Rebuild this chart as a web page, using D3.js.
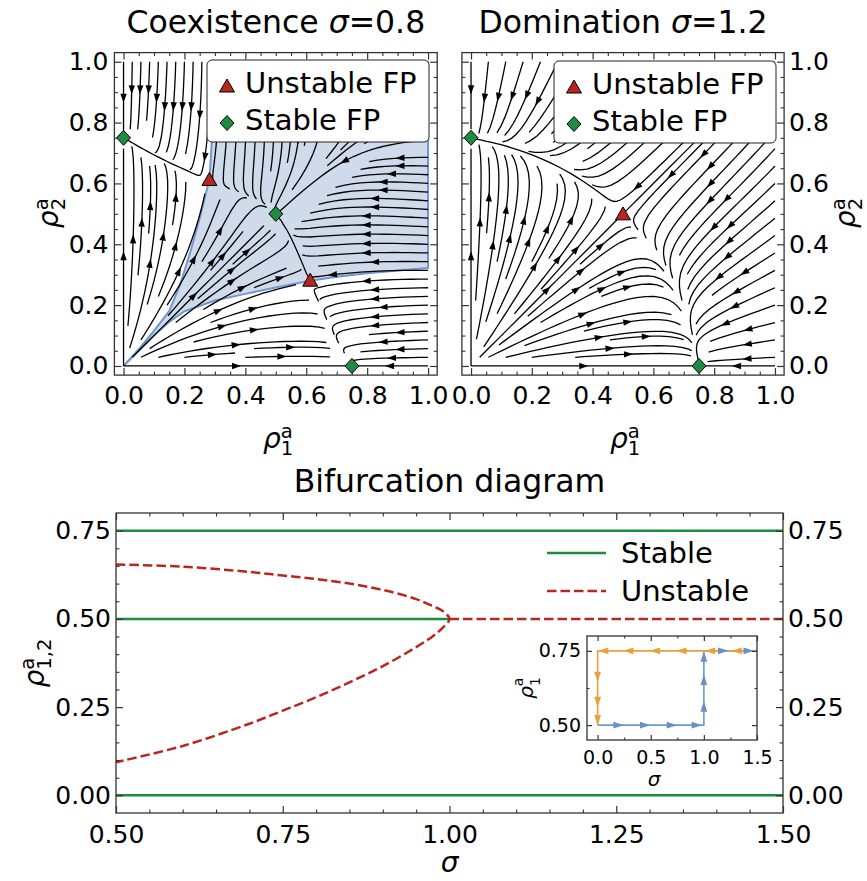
<!DOCTYPE html>
<html>
<head>
<meta charset="utf-8">
<script src="https://cdn.jsdelivr.net/npm/d3@7"></script>
<style>
  body { margin: 0; background: #fff; }
  svg { font-family: "DejaVu Sans", sans-serif; }
</style>
</head>
<body>
<script>
// Canvas
const w = 867;
const h = 881;

// ---------- values ----------
// fixed points of the phase portraits (rho1, rho2)
const coexStable = [[0, 0.75], [0.5, 0.5], [0.75, 0]];
const coexUnstable = [[0.282, 0.613], [0.613, 0.282]];
const domStable = [[0, 0.75], [0.75, 0]];
const domUnstable = [[0.5, 0.5]];

// basin of attraction of the coexistence state (sigma = 0.8)
const basinLower = [[0, 0], [0.05, 0.05], [0.1, 0.1], [0.15, 0.145], [0.2, 0.18], [0.3, 0.215],
  [0.4, 0.237], [0.5, 0.258], [0.613, 0.28], [0.7, 0.293], [0.8, 0.305], [0.9, 0.314], [1.0, 0.322]];
const basinUpper = [[0, 0], [0.05, 0.055], [0.1, 0.115], [0.15, 0.18], [0.185, 0.265], [0.218, 0.37],
  [0.251, 0.49], [0.282, 0.613], [0.29, 0.737], [0.3, 1.0]];
const basinCorner = [[1.0, 1.0]];

const phaseTicks = [0, 0.2, 0.4, 0.6, 0.8, 1.0];

// bifurcation diagram
const bifSigma = [0.5, 0.6, 0.7, 0.75, 0.8, 0.85, 0.9, 0.95, 0.975, 0.99, 1.0];
const bifUpper = [0.654, 0.648, 0.633, 0.623, 0.613, 0.6, 0.582, 0.556, 0.536, 0.522, 0.5];
const bifLower = [0.094, 0.14, 0.203, 0.24, 0.278, 0.32, 0.366, 0.42, 0.451, 0.475, 0.5];
const stableBranches = [[[0.5, 0.75], [1.5, 0.75]], [[0.5, 0.5], [1.0, 0.5]], [[0.5, 0], [1.5, 0]]];
const unstableCentre = [[1.0, 0.5], [1.5, 0.5]];
const bifXTicks = [0.5, 0.75, 1.0, 1.25, 1.5];
const bifYTicks = [0, 0.25, 0.5, 0.75];

// hysteresis inset (sigma, rho1)
const loopDown = [[1.5, 0.75], [0, 0.75], [0, 0.5]];
const loopUp = [[0, 0.5], [1.0, 0.5], [1.0, 0.75], [1.5, 0.75]];
const loopDownArrows = [[1.31, 0.75, "left"], [1.06, 0.75, "left"], [0.79, 0.75, "left"], [0.54, 0.75, "left"],
  [0.29, 0.75, "left"], [0.054, 0.75, "left"], [0, 0.663, "down"], [0, 0.579, "down"], [0, 0.517, "down"]];
const loopUpArrows = [[0.195, 0.5, "right"], [0.446, 0.5, "right"], [0.697, 0.5, "right"], [0.932, 0.5, "right"],
  [1.0, 0.562, "up"], [1.0, 0.652, "up"], [1.0, 0.73, "up"], [1.18, 0.75, "right"], [1.42, 0.75, "right"]];
const insetXTicks = [0, 0.5, 1.0, 1.5];
const insetYTicks = [0.5, 0.75];

// ---------- model used for the stream lines: rho_i' = rho_i * g(rho_i, rho_j) ----------
function gCoex(a, b) {
  const q = (a - 0.225) ** 2 + (b - 0.225) ** 2 - 0.15125;
  return 0.919 - a - 2.221 * b - 0.3 * a * a + 1.995 * a * b + 1.072 * b * b - a * a * b * q;
}
function gDom(a, b, s = 1.2) {
  return 0.75 - a - s * b + (2 * s - 1) * a * b;
}

// colours
const RED = "#b8271f";
const GREEN = "#1c8c3e";
const BLUE = "#7297cf";
const ORANGE = "#e9a23b";
const INK = "#333";

// ---------- streamplot (same scheme as matplotlib) ----------
function streamplot(field, density, minlength) {
  const N = 100;
  const nm = Math.round(30 * density);
  const g2m = (nm - 1) / (N - 1);
  const mask = new Uint8Array(nm * nm);
  let traj = [], cur = -1;
  const within = (xg, yg) => xg >= 0 && xg <= N - 1 && yg >= 0 && yg <= N - 1;

  function update(xg, yg) {
    if (!within(xg, yg)) throw "invalid";
    const k = Math.round(yg * g2m) * nm + Math.round(xg * g2m);
    if (k !== cur) {
      if (mask[k] === 0) { traj.push(k); mask[k] = 1; cur = k; }
      else throw "invalid";
    }
  }
  function dir(xg, yg, sgn) {
    if (!within(xg, yg)) throw "oob";
    const [u, v] = field(xg / (N - 1), yg / (N - 1));
    const s = Math.hypot(u, v);
    if (s === 0 || !isFinite(s)) throw "stop";
    return [sgn * u * (N - 1) / s, sgn * v * (N - 1) / s];
  }
  function euler(pts, sgn) {
    const [xi, yi] = pts[pts.length - 1];
    let c;
    try { c = dir(xi, yi, sgn); } catch (e) { return 0; }
    const [cx, cy] = c;
    const dsx = cx === 0 ? Infinity : cx < 0 ? xi / -cx : (N - 1 - xi) / cx;
    const dsy = cy === 0 ? Infinity : cy < 0 ? yi / -cy : (N - 1 - yi) / cy;
    const ds = Math.min(dsx, dsy);
    pts.push([xi + cx * ds, yi + cy * ds]);
    return ds;
  }
  function rk12(x0, y0, sgn) {
    const maxerr = 0.003, maxds = Math.min(1 / nm, 0.1), maxlength = 4;
    let ds = maxds, stot = 0, xi = x0, yi = y0;
    const pts = [];
    for (let it = 0; it < 20000; it++) {
      let k1, k2;
      try {
        if (within(xi, yi)) pts.push([xi, yi]); else throw "oob";
        k1 = dir(xi, yi, sgn);
        k2 = dir(xi + ds * k1[0], yi + ds * k1[1], sgn);
      } catch (e) {
        if (e === "oob" && pts.length) stot += euler(pts, sgn);
        break;
      }
      const dx1 = ds * k1[0], dy1 = ds * k1[1];
      const dx2 = ds * 0.5 * (k1[0] + k2[0]), dy2 = ds * 0.5 * (k1[1] + k2[1]);
      const err = Math.hypot((dx2 - dx1) / (N - 1), (dy2 - dy1) / (N - 1));
      if (err < maxerr) {
        xi += dx2; yi += dy2;
        try { update(xi, yi); } catch (e) { break; }
        if (stot + ds > maxlength) break;
        stot += ds;
      }
      ds = err === 0 ? maxds : Math.min(maxds, 0.85 * ds * Math.sqrt(maxerr / err));
    }
    return { s: stot, pts };
  }
  function integrate(x0, y0) {
    traj = []; cur = -1;
    try { update(x0, y0); } catch (e) { return null; }
    const b = rk12(x0, y0, -1);
    cur = Math.round(y0 * g2m) * nm + Math.round(x0 * g2m);
    const f = rk12(x0, y0, 1);
    const stot = b.s + f.s;
    if (stot > minlength) return b.pts.reverse().concat(f.pts.slice(1));
    for (const k of traj) mask[k] = 0;
    return null;
  }
  // spiral of seed points from the border inwards
  const out = [];
  let x = 0, y = 0, xfirst = 0, yfirst = 1, xlast = nm - 1, ylast = nm - 1, d = "right";
  for (let i = 0; i < nm * nm; i++) {
    if (mask[y * nm + x] === 0) {
      const t = integrate(x / g2m, y / g2m);
      if (t) out.push(t.map(p => [p[0] / (N - 1), p[1] / (N - 1)]));
    }
    if (d === "right") { x++; if (x >= xlast) { xlast--; d = "up"; } }
    else if (d === "up") { y++; if (y >= ylast) { ylast--; d = "left"; } }
    else if (d === "left") { x--; if (x <= xfirst) { xfirst++; d = "down"; } }
    else { y--; if (y <= yfirst) { yfirst++; d = "right"; } }
  }
  return out;
}

const svg = d3.select("body").append("svg").attr("width", w).attr("height", h);

// ---------- helpers ----------
function axesFrame(g, sx, sy, o) {
  const [xa, xb] = sx.range(), [ya, yb] = sy.range();
  const specs = [
    [() => d3.axisBottom(sx), `translate(0,${ya})`, o.xMajor, o.xMinor, o.bottom, o.xFmt, o.padX],
    [() => d3.axisTop(sx), `translate(0,${yb})`, o.xMajor, o.xMinor, false, null, 0],
    [() => d3.axisLeft(sy), `translate(${xa},0)`, o.yMajor, o.yMinor, o.left, o.yFmt, o.padY],
    [() => d3.axisRight(sy), `translate(${xb},0)`, o.yMajor, o.yMinor, o.right, o.yFmt, o.padY]
  ];
  for (const [mk, tr, major, minor, lab, fmt, pad] of specs) {
    g.append("g").attr("transform", tr).attr("color", INK)
      .call(mk().tickValues(minor).tickSizeInner(-o.minorLen).tickSizeOuter(0).tickFormat(() => ""))
      .call(s => s.select(".domain").remove())
      .call(s => s.selectAll("line").attr("stroke-width", 1.1));
    g.append("g").attr("transform", tr).attr("color", INK)
      .call(mk().tickValues(major).tickSizeInner(-o.majorLen).tickSizeOuter(0).tickPadding(pad)
        .tickFormat(lab ? d3.format(fmt) : () => ""))
      .call(s => s.select(".domain").remove())
      .call(s => s.selectAll("line").attr("stroke-width", 1.2))
      .call(s => s.selectAll("text").attr("fill", "#000").attr("font-size", o.fs)
        .attr("font-family", "DejaVu Sans, sans-serif"));
  }
  g.append("rect").attr("x", xa).attr("y", yb).attr("width", xb - xa).attr("height", ya - yb)
    .attr("fill", "none").attr("stroke", INK).attr("stroke-width", 1.3);
}

function rhoLabel(g, x, y, sub, fs, rot) {
  const t = g.append("text").attr("transform", `translate(${x},${y}) rotate(${rot})`)
    .attr("text-anchor", "middle").attr("font-size", fs);
  t.append("tspan").attr("font-style", "italic").text("ρ");
  t.append("tspan").attr("font-size", fs * 0.7).attr("dy", -10).text("a");
  t.append("tspan").attr("font-size", fs * 0.7).attr("dx", -fs * 0.7 * 0.613).attr("dy", 17).text(sub);
}

function sigmaTitle(g, x, y, head, tail) {
  const t = g.append("text").attr("x", x).attr("y", y).attr("text-anchor", "middle").attr("font-size", 31.5);
  t.append("tspan").text(head);
  t.append("tspan").attr("font-style", "italic").text("σ");
  t.append("tspan").text(tail);
}

const triPath = "M0,-7 L7.5,6 L-7.5,6 Z";
const diaPath = "M0,-7.5 L7,0 L0,7.5 L-7,0 Z";

function fixedPoints(g, sx, sy, stable, unstable) {
  g.selectAll(null).data(unstable).join("path").attr("d", triPath)
    .attr("transform", d => `translate(${sx(d[0])},${sy(d[1])})`)
    .attr("fill", RED).attr("stroke", "#000").attr("stroke-width", 1);
  g.selectAll(null).data(stable).join("path").attr("d", diaPath)
    .attr("transform", d => `translate(${sx(d[0])},${sy(d[1])})`)
    .attr("fill", GREEN).attr("stroke", "#000").attr("stroke-width", 1);
}

function fpLegend(g, x0, y0) {
  g.append("rect").attr("x", x0).attr("y", y0).attr("width", 222).attr("height", 82).attr("rx", 5)
    .attr("fill", "#fff").attr("stroke", "#222").attr("stroke-width", 1);
  g.append("path").attr("d", triPath).attr("transform", `translate(${x0 + 20},${y0 + 26})`)
    .attr("fill", RED).attr("stroke", "#000").attr("stroke-width", 1);
  g.append("text").attr("x", x0 + 38).attr("y", y0 + 33).attr("font-size", 29).text("Unstable FP");
  g.append("path").attr("d", diaPath).attr("transform", `translate(${x0 + 20},${y0 + 63})`)
    .attr("fill", GREEN).attr("stroke", "#000").attr("stroke-width", 1);
  g.append("text").attr("x", x0 + 38).attr("y", y0 + 70).attr("font-size", 29).text("Stable FP");
}

function streams(g, sx, sy, lines) {
  const line = d3.line().x(d => sx(d[0])).y(d => sy(d[1]));
  g.selectAll(null).data(lines).join("path").attr("d", line)
    .attr("fill", "none").attr("stroke", "#000").attr("stroke-width", 1.3);
  const heads = [];
  for (const pts of lines) {
    const px = pts.map(p => [sx(p[0]), sy(p[1])]);
    const s = [];
    let acc = 0;
    for (let i = 1; i < px.length; i++) { acc += Math.hypot(px[i][0] - px[i - 1][0], px[i][1] - px[i - 1][1]); s.push(acc); }
    if (!s.length) continue;
    let n = 0;
    while (n < s.length && s[n] < acc / 2) n++;
    const tail = px[n];
    const head = n + 1 < px.length ? [(px[n][0] + px[n + 1][0]) / 2, (px[n][1] + px[n + 1][1]) / 2] : px[n];
    if (head[0] === tail[0] && head[1] === tail[1]) continue;
    const ang = Math.atan2(head[1] - tail[1], head[0] - tail[0]) * 180 / Math.PI;
    heads.push({ x: head[0], y: head[1], a: ang });
  }
  g.selectAll(null).data(heads).join("path").attr("d", "M3,0 L-6,-3.2 L-6,3.2 Z")
    .attr("transform", d => `translate(${d.x},${d.y}) rotate(${d.a})`).attr("fill", "#000");
}

// ---------- scales ----------
const xCo = d3.scaleLinear([-0.03, 1.03], [114.4, 437.2]);
const xDo = d3.scaleLinear([-0.03, 1.03], [461.9, 784.1]);
const yPh = d3.scaleLinear([-0.03, 1.03], [375.1, 52.6]);
const xBif = d3.scaleLinear([0.5, 1.5], [116, 783]);
const yBif = d3.scaleLinear([-0.05, 0.8], [813, 513]);
const xIn = d3.scaleLinear([-0.1, 1.5], [587, 757]);
const yIn = d3.scaleLinear([0.45, 0.8], [740, 636]);

const phaseMinor = d3.range(0, 21).map(i => i * 0.05).filter(v => Math.abs(v * 5 - Math.round(v * 5)) > 1e-6);

// ---------- panel 1: coexistence ----------
const p1 = svg.append("g");
const basinPoly = basinLower.concat(basinCorner, basinUpper.slice().reverse());
p1.append("path").datum(basinPoly)
  .attr("d", d3.line().x(d => xCo(d[0])).y(d => yPh(d[1])))
  .attr("fill", "#cfdaea").attr("stroke", BLUE).attr("stroke-width", 2).attr("stroke-linejoin", "round");
streams(p1, xCo, yPh, streamplot((a, b) => [a * gCoex(a, b), b * gCoex(b, a)], 1.2, 0.14));
fixedPoints(p1, xCo, yPh, coexStable, coexUnstable);
fpLegend(p1, 207, 60);
axesFrame(p1, xCo, yPh, {
  xMajor: phaseTicks, xMinor: phaseMinor, yMajor: phaseTicks, yMinor: phaseMinor,
  bottom: true, left: true, right: false, xFmt: ".1f", yFmt: ".1f", fs: 25, padX: 11, padY: 6,
  majorLen: 7, minorLen: 3.5
});
sigmaTitle(p1, 275.8, 33, "Coexistence ", "=0.8");
rhoLabel(p1, 278, 448, "1", 28, 0);
rhoLabel(p1, 58, 213, "2", 28, -90);

// ---------- panel 2: domination ----------
const p2 = svg.append("g");
streams(p2, xDo, yPh, streamplot((a, b) => [a * gDom(a, b), b * gDom(b, a)], 1.2, 0.2));
fixedPoints(p2, xDo, yPh, domStable, domUnstable);
fpLegend(p2, 554, 61);
axesFrame(p2, xDo, yPh, {
  xMajor: phaseTicks, xMinor: phaseMinor, yMajor: phaseTicks, yMinor: phaseMinor,
  bottom: true, left: false, right: true, xFmt: ".1f", yFmt: ".1f", fs: 25, padX: 11, padY: 5,
  majorLen: 7, minorLen: 3.5
});
sigmaTitle(p2, 623, 33, "Domination ", "=1.2");
rhoLabel(p2, 625, 448, "1", 28, 0);
rhoLabel(p2, 855, 213, "2", 28, -90);

// ---------- panel 3: bifurcation diagram ----------
const p3 = svg.append("g");
const bl = d3.line().x(d => xBif(d[0])).y(d => yBif(d[1]));
p3.selectAll(null).data(stableBranches).join("path").attr("d", bl)
  .attr("fill", "none").attr("stroke", GREEN).attr("stroke-width", 2.5);
const nose = bifSigma.map((s, i) => [s, bifUpper[i]])
  .concat(bifSigma.map((s, i) => [s, bifLower[i]]).slice(0, -1).reverse());
p3.append("path").datum(nose).attr("d", d3.line().x(d => xBif(d[0])).y(d => yBif(d[1])).curve(d3.curveCatmullRom))
  .attr("fill", "none").attr("stroke", RED).attr("stroke-width", 2.5).attr("stroke-dasharray", "9.5,4");
p3.append("path").datum(unstableCentre).attr("d", bl)
  .attr("fill", "none").attr("stroke", RED).attr("stroke-width", 2.5).attr("stroke-dasharray", "9.5,4");

const bifXMinor = d3.range(0, 21).map(i => 0.5 + i * 0.05).filter(v => Math.abs(v * 4 - Math.round(v * 4)) > 1e-6);
const bifYMinor = d3.range(0, 16).map(i => i * 0.05).filter(v => Math.abs(v * 4 - Math.round(v * 4)) > 1e-6);
axesFrame(p3, xBif, yBif, {
  xMajor: bifXTicks, xMinor: bifXMinor, yMajor: bifYTicks, yMinor: bifYMinor,
  bottom: true, left: true, right: true, xFmt: ".2f", yFmt: ".2f", fs: 25, padX: 12, padY: 5,
  majorLen: 7, minorLen: 3.5
});
p3.append("text").attr("x", 449.5).attr("y", 492).attr("text-anchor", "middle").attr("font-size", 31.5)
  .text("Bifurcation diagram");
p3.append("text").attr("x", 449.5).attr("y", 872).attr("text-anchor", "middle").attr("font-size", 28)
  .attr("font-style", "italic").text("σ");
rhoLabel(p3, 44, 663, "1,2", 28, -90);

// legend
const lg = p3.append("g");
lg.append("line").attr("x1", 547).attr("x2", 606).attr("y1", 553).attr("y2", 553)
  .attr("stroke", GREEN).attr("stroke-width", 2.5);
lg.append("text").attr("x", 621).attr("y", 563).attr("font-size", 29).text("Stable");
lg.append("line").attr("x1", 547).attr("x2", 606).attr("y1", 591).attr("y2", 591)
  .attr("stroke", RED).attr("stroke-width", 2.5).attr("stroke-dasharray", "9.5,4");
lg.append("text").attr("x", 621).attr("y", 601).attr("font-size", 29).text("Unstable");

// ---------- inset: hysteresis loop ----------
const p4 = svg.append("g");
p4.append("rect").attr("x", 587).attr("y", 636).attr("width", 170).attr("height", 104).attr("fill", "#fff");
const il = d3.line().x(d => xIn(d[0])).y(d => yIn(d[1]));
p4.append("path").datum(loopUp).attr("d", il).attr("fill", "none").attr("stroke", BLUE).attr("stroke-width", 1.6);
p4.append("path").datum(loopDown).attr("d", il).attr("fill", "none").attr("stroke", ORANGE).attr("stroke-width", 1.6);
const headings = { left: 180, right: 0, up: -90, down: 90 };
const arrowPath = "M5.5,0 L-5,-3.4 L-5,3.4 Z";
p4.selectAll(null).data(loopUpArrows).join("path").attr("d", arrowPath)
  .attr("transform", d => `translate(${xIn(d[0])},${yIn(d[1])}) rotate(${headings[d[2]]})`).attr("fill", "#6a8fca");
p4.selectAll(null).data(loopDownArrows).join("path").attr("d", arrowPath)
  .attr("transform", d => `translate(${xIn(d[0])},${yIn(d[1])}) rotate(${headings[d[2]]})`).attr("fill", ORANGE);
axesFrame(p4, xIn, yIn, {
  xMajor: insetXTicks, xMinor: [0.25, 0.75, 1.25], yMajor: insetYTicks, yMinor: [0.625],
  bottom: true, left: true, right: false, xFmt: ".1f", yFmt: ".2f", fs: 19, padX: 11, padY: 6,
  majorLen: 5, minorLen: 2.5
});
p4.append("text").attr("x", 654).attr("y", 786).attr("text-anchor", "middle").attr("font-size", 20)
  .attr("font-style", "italic").text("σ");
rhoLabel(p4, 533, 688, "1", 20, -90);
</script>
</body>
</html>
